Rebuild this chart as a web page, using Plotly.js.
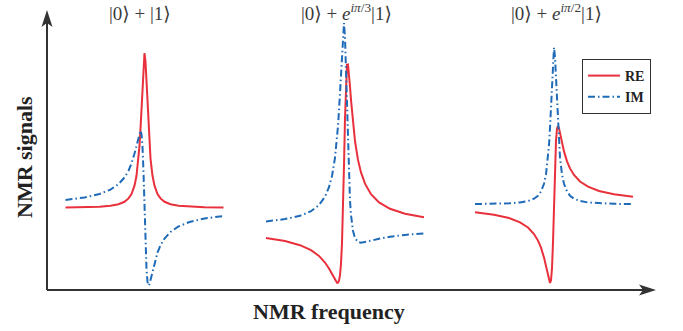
<!DOCTYPE html>
<html><head><meta charset="utf-8">
<script src="https://cdn.plot.ly/plotly-3.0.1.min.js"></script>
<style>html,body{margin:0;padding:0;background:#fff}#chart{width:683px;height:331px}</style>
</head><body><div id="chart"></div>
<script>
// ---- data (frequency in arbitrary units, signal in arbitrary units) ----
const panelTitles = ['|0\u27E9 + |1\u27E9',
  '|0\u27E9 + <i>e</i><sup><i>i\u03C0</i>/3</sup>|1\u27E9',
  '|0\u27E9 + <i>e</i><sup><i>i\u03C0</i>/2</sup>|1\u27E9'];
const seriesNames = ['RE', 'IM'];
const axisTitleX = 'NMR frequency';
const axisTitleY = 'NMR signals';

const freq1 = [18.5, 37.5, 52.5, 63.5, 71.5, 77.5, 81.5, 84.5, 87.5, 89.5, 91.5, 92.5, 93.5, 94.5, 95.5, 96.5, 97.5, 98.5, 99.5, 100.5, 101.5, 102.5, 103.5, 105.5, 107.5, 110.5, 113.5, 117.5, 123.5, 131.5, 142.5, 157.5, 176.5];
const re1 = [82.4, 82.7, 83.3, 84.2, 85.8, 88.2, 91.6, 96.0, 104.3, 114.2, 131.4, 144.3, 161.4, 182.9, 207.2, 228.3, 237, 228.3, 207.2, 182.9, 161.4, 144.3, 131.4, 114.2, 104.3, 96.0, 91.6, 88.2, 85.8, 84.2, 83.3, 82.7, 82.4];
const im1 = [90.0, 92.5, 96.0, 100.4, 105.9, 112.5, 119.3, 126.5, 136.4, 144.9, 154.2, 158.0, 159.5, 155.9, 143.1, 117.7, 82, 46.3, 20.9, 8.1, 4.5, 6.0, 9.8, 19.1, 27.6, 37.5, 44.7, 51.5, 58.1, 63.6, 68.0, 71.5, 74.0];

const freq2 = [219, 238, 253, 264, 272, 278, 282, 285, 288, 290, 291, 292, 293, 294, 295, 296, 297, 298, 299, 300, 301, 302, 303, 304, 306, 308, 311, 314, 318, 324, 332, 343, 358, 377];
const re2 = [51.9, 48.9, 44.8, 39.9, 34.1, 27.5, 21.5, 15.9, 9.9, 7.2, 7.2, 9.3, 14.9, 26.4, 47.1, 80.1, 124.7, 172, 208.2, 225.2, 225.5, 216.3, 203.4, 190.1, 166.7, 148.9, 130.1, 117.6, 106.3, 95.8, 87.6, 81.2, 76.2, 72.7];
const im2 = [68.6, 70.9, 74.2, 78.8, 85.0, 93.3, 102.8, 114.0, 132.2, 151.2, 163.9, 179.5, 198.0, 219.6, 242.2, 260.9, 267.0, 252.5, 218.7, 177.1, 139.2, 110.0, 89.2, 75.0, 59.1, 52.0, 48.0, 47.3, 47.8, 49.3, 51.3, 53.3, 55.1, 56.6];

const freq3 = [428, 447, 462, 473, 481, 487, 491, 494, 497, 499, 501, 502, 503, 504, 505, 506, 507, 508, 509, 510, 511, 512, 513, 515, 517, 520, 523, 527, 533, 541, 552, 567, 586];
const re3 = [77.8, 75.3, 72.0, 67.7, 62.5, 56.0, 49.4, 42.3, 32.4, 23.7, 13.8, 9.4, 7.0, 9.6, 21.8, 47.7, 85.5, 123.3, 149.2, 161.4, 164.0, 161.6, 157.2, 147.3, 138.6, 128.7, 121.6, 115.0, 108.5, 103.3, 99.0, 95.7, 93.2];
const im3 = [85.9, 86.2, 86.7, 87.5, 89.0, 91.3, 94.3, 98.5, 106.2, 115.6, 132.1, 144.9, 162.0, 184.1, 209.8, 232.8, 242.5, 232.8, 209.8, 184.1, 162.0, 144.9, 132.1, 115.6, 106.2, 98.5, 94.3, 91.3, 89.0, 87.5, 86.7, 86.2, 85.9];

// ---- styling / layout ----
const RED = '#e8313c', BLUE = '#1f6bb8', INK = '#333333';
const FW = 683, FH = 331, ML = 47, MR = 27, MT = 10, MB = 41;
const W = FW - ML - MR, H = FH - MT - MB;
const px = x => (x - ML) / W;          // page pixel -> paper x
const py = y => (MT + H - y) / H;      // page pixel -> paper y
const SERIF = '"Liberation Serif", "DejaVu Serif", serif';

const freqs = [freq1, freq2, freq3], res = [re1, re2, re3], ims = [im1, im2, im3];
const traces = [];
for (let i = 0; i < 3; i++) {
  traces.push({x: freqs[i], y: res[i], type: 'scatter', mode: 'lines', name: seriesNames[0],
    legendgroup: 're', showlegend: i === 0, line: {color: RED, width: 2}});
}
for (let i = 0; i < 3; i++) {
  traces.push({x: freqs[i], y: ims[i], type: 'scatter', mode: 'lines', name: seriesNames[1],
    legendgroup: 'im', showlegend: i === 0, line: {color: BLUE, width: 2, dash: '7px,3px,1.5px,3px'}});
}

const titlePos = [[140, 26], [346, 26], [556.7, 26]];
const annotations = panelTitles.map((t, i) => ({
  text: t, xref: 'paper', yref: 'paper', x: px(titlePos[i][0]), y: py(titlePos[i][1]),
  xanchor: 'center', yanchor: 'bottom', showarrow: false,
  font: {family: SERIF, size: 19, color: '#3a3a3a'}
}));
annotations.push({text: axisTitleY, xref: 'paper', yref: 'paper', x: px(24), y: py(157),
  textangle: -90, showarrow: false, xanchor: 'center', yanchor: 'middle',
  font: {family: SERIF, size: 22, color: '#222', weight: 'bold'}});
annotations.push({text: axisTitleX, xref: 'paper', yref: 'paper', x: px(329), y: py(311),
  showarrow: false, xanchor: 'center', yanchor: 'middle',
  font: {family: SERIF, size: 22, color: '#222', weight: 'bold'}});

const P = (x, y) => px(x) + ',' + py(y);
const shapes = [
  {type: 'line', xref: 'paper', yref: 'paper', x0: px(47), y0: py(290), x1: px(645), y1: py(290), line: {color: INK, width: 2}},
  {type: 'line', xref: 'paper', yref: 'paper', x0: px(47), y0: py(290), x1: px(47), y1: py(22), line: {color: INK, width: 2}},
  {type: 'path', xref: 'paper', yref: 'paper', path: 'M' + P(656, 290) + 'L' + P(639, 284.5) + 'L' + P(643, 290) + 'L' + P(639, 295.5) + 'Z',
    fillcolor: INK, line: {width: 0}},
  {type: 'path', xref: 'paper', yref: 'paper', path: 'M' + P(47, 10) + 'L' + P(41.5, 27) + 'L' + P(47, 23) + 'L' + P(52.5, 27) + 'Z',
    fillcolor: INK, line: {width: 0}}
];

const layout = {
  width: FW, height: FH, margin: {l: ML, r: MR, t: MT, b: MB, pad: 0},
  paper_bgcolor: '#fff', plot_bgcolor: '#fff',
  xaxis: {range: [0, W], visible: false, fixedrange: true},
  yaxis: {range: [0, H], visible: false, fixedrange: true},
  showlegend: true,
  legend: {x: px(582), y: py(59), xanchor: 'left', yanchor: 'top', bgcolor: '#fff',
    bordercolor: INK, borderwidth: 1, font: {family: SERIF, size: 14, color: '#222', weight: 'bold'},
    tracegroupgap: 0, itemwidth: 32, entrywidth: 68, entrywidthmode: 'pixels'},
  annotations: annotations, shapes: shapes
};
Plotly.newPlot('chart', traces, layout, {staticPlot: true, displayModeBar: false});
</script></body></html>
